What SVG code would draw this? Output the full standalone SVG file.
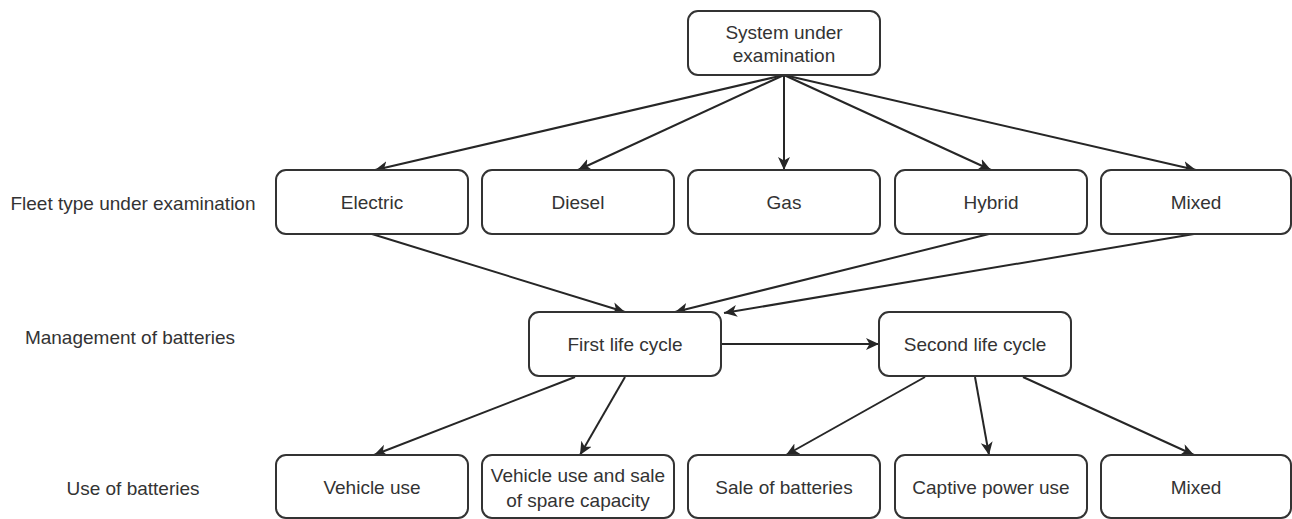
<svg xmlns="http://www.w3.org/2000/svg" width="1292" height="519" viewBox="0 0 1292 519">
<style>
  .box { fill: #ffffff; stroke: #333333; stroke-width: 2; }
  .t { font-family: "Liberation Sans", Arial, sans-serif; font-size: 19px; fill: #333333; text-anchor: middle; dominant-baseline: central; }
  .edge { stroke: #262626; stroke-width: 2; fill: none; marker-end: url(#arrow); }
</style>
<defs>
  <marker id="arrow" markerUnits="userSpaceOnUse" markerWidth="16" markerHeight="14" refX="13" refY="6" orient="auto">
    <path d="M0,0 L13,6 L0,12 L3.5,6 Z" fill="#262626"/>
  </marker>
</defs>
<rect width="1292" height="519" fill="#ffffff"/>

<g id="labels">
  <text class="t" x="133" y="203">Fleet type under examination</text>
  <text class="t" x="130" y="337">Management of batteries</text>
  <text class="t" x="133" y="488">Use of batteries</text>
</g>

<g id="connectors">
  <line class="edge" x1="784" y1="75" x2="375" y2="170"/>
  <line class="edge" x1="784" y1="75" x2="578" y2="170"/>
  <line class="edge" x1="784" y1="75" x2="784" y2="170"/>
  <line class="edge" x1="784" y1="75" x2="991" y2="170"/>
  <line class="edge" x1="784" y1="75" x2="1196" y2="170"/>
  <line class="edge" x1="372" y1="234" x2="625" y2="312"/>
  <line class="edge" x1="989" y1="234" x2="675" y2="312"/>
  <line class="edge" x1="1194" y1="234" x2="724" y2="313"/>
  <line class="edge" x1="722" y1="344" x2="879" y2="344"/>
  <line class="edge" x1="575" y1="377" x2="374" y2="455"/>
  <line class="edge" x1="625" y1="377" x2="580" y2="455"/>
  <line class="edge" x1="925" y1="377" x2="786" y2="455"/>
  <line class="edge" x1="975" y1="377" x2="989" y2="455"/>
  <line class="edge" x1="1023" y1="377" x2="1194" y2="455"/>
</g>

<g id="system">
  <rect class="box" x="688" y="11" width="192" height="64" rx="10"/>
  <text class="t" x="784" y="32">System under</text>
  <text class="t" x="784" y="55">examination</text>
</g>
<g id="electric">
  <rect class="box" x="276" y="170" width="192" height="64" rx="10"/>
  <text class="t" x="372" y="202">Electric</text>
</g>
<g id="diesel">
  <rect class="box" x="482" y="170" width="192" height="64" rx="10"/>
  <text class="t" x="578" y="202">Diesel</text>
</g>
<g id="gas">
  <rect class="box" x="688" y="170" width="192" height="64" rx="10"/>
  <text class="t" x="784" y="202">Gas</text>
</g>
<g id="hybrid">
  <rect class="box" x="895" y="170" width="192" height="64" rx="10"/>
  <text class="t" x="991" y="202">Hybrid</text>
</g>
<g id="mixed-fleet">
  <rect class="box" x="1101" y="170" width="190" height="64" rx="10"/>
  <text class="t" x="1196" y="202">Mixed</text>
</g>
<g id="first-life">
  <rect class="box" x="529" y="312" width="192" height="64" rx="10"/>
  <text class="t" x="625" y="344">First life cycle</text>
</g>
<g id="second-life">
  <rect class="box" x="879" y="312" width="192" height="64" rx="10"/>
  <text class="t" x="975" y="344">Second life cycle</text>
</g>
<g id="vehicle-use">
  <rect class="box" x="276" y="455" width="192" height="63" rx="10"/>
  <text class="t" x="372" y="487">Vehicle use</text>
</g>
<g id="vehicle-sale">
  <rect class="box" x="482" y="455" width="192" height="63" rx="10"/>
  <text class="t" x="578" y="475">Vehicle use and sale</text>
  <text class="t" x="578" y="500">of spare capacity</text>
</g>
<g id="sale-batteries">
  <rect class="box" x="688" y="455" width="192" height="63" rx="10"/>
  <text class="t" x="784" y="487">Sale of batteries</text>
</g>
<g id="captive">
  <rect class="box" x="895" y="455" width="192" height="63" rx="10"/>
  <text class="t" x="991" y="487">Captive power use</text>
</g>
<g id="mixed-use">
  <rect class="box" x="1101" y="455" width="190" height="63" rx="10"/>
  <text class="t" x="1196" y="487">Mixed</text>
</g>
</svg>
